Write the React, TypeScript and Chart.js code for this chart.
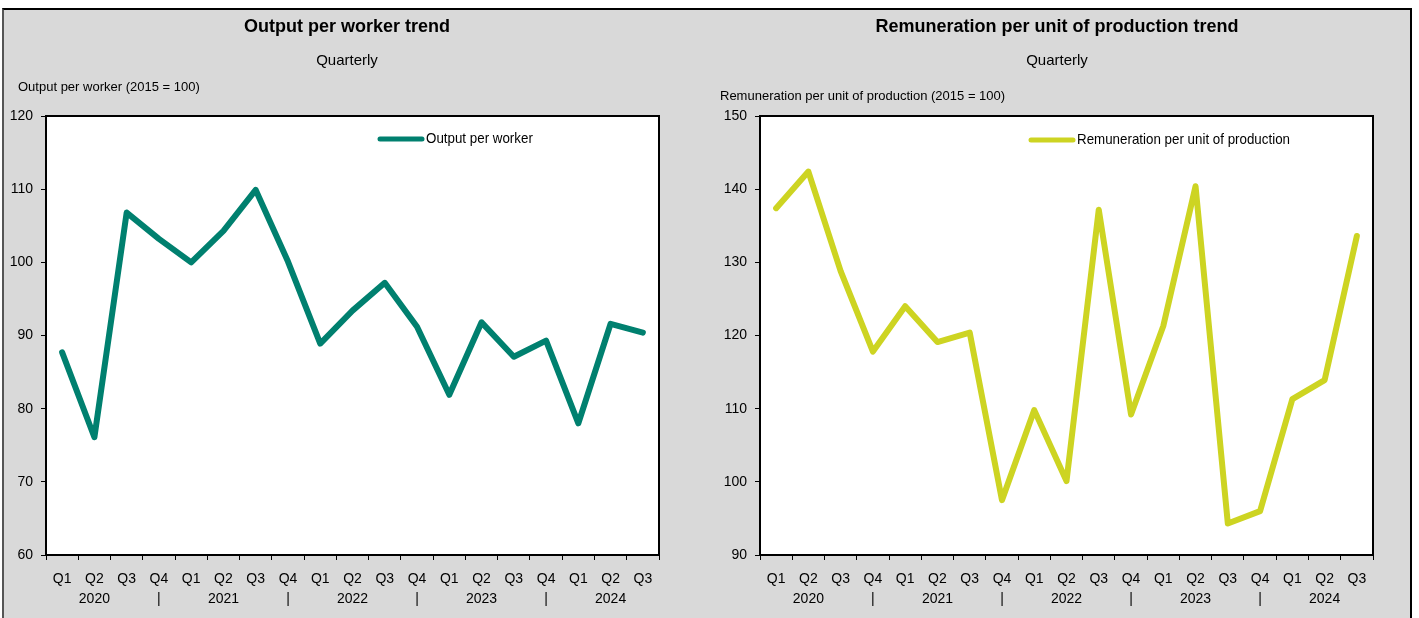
import React, { useEffect, useRef } from "react";
import { Chart, registerables } from "chart.js";

Chart.register(...registerables);

// ---------- data ----------
const quarterLabels = ["Q1", "Q2", "Q3", "Q4", "Q1", "Q2", "Q3", "Q4", "Q1", "Q2", "Q3", "Q4", "Q1", "Q2", "Q3", "Q4", "Q1", "Q2", "Q3"];
const yearLabels = ["", "2020", "", "|", "", "2021", "", "|", "", "2022", "", "|", "", "2023", "", "|", "", "2024", ""];

const outputPerWorker = [87.7, 76.1, 106.8, 103.2, 100.0, 104.3, 109.9, 100.1, 88.9, 93.4, 97.2, 91.2, 81.9, 91.8, 87.1, 89.3, 78.0, 91.6, 90.4];
const remunerationPerUnit = [137.4, 142.4, 128.8, 117.8, 124.0, 119.1, 120.4, 97.5, 109.8, 100.1, 137.2, 109.2, 121.3, 140.4, 94.3, 96.0, 111.3, 113.9, 133.6];

const outputTicks = { min: 60, max: 120, step: 10 };
const remunerationTicks = { min: 90, max: 150, step: 10 };

const FONT = "'Liberation Sans Narrow', 'Arial Narrow', 'Liberation Sans', Arial, sans-serif";

type PanelProps = {
  left: number;
  width: number;
  height: number;
  title: string;
  subtitle: string;
  axisLabel: string;
  seriesName: string;
  values: number[];
  color: string;
  range: { min: number; max: number; step: number };
  yAxisWidth: number;
  rightPad: number;
  titleX: number;
  axisLabelPos: [number, number];
  legendPos: [number, number];
};

function Panel(p: PanelProps) {
  const ref = useRef<HTMLCanvasElement | null>(null);

  useEffect(() => {
    if (!ref.current) return;
    const labels = quarterLabels.map((q, i) => [q, yearLabels[i]]);

    const decor = {
      id: "decor",
      beforeDraw(chart: any) {
        const { ctx, chartArea: a } = chart;
        ctx.save();
        ctx.fillStyle = "#ffffff";
        ctx.fillRect(a.left, a.top, a.right - a.left, a.bottom - a.top);
        ctx.restore();
      },
      afterDraw(chart: any) {
        const { ctx, chartArea: a } = chart;
        ctx.save();
        ctx.strokeStyle = "#000";
        ctx.lineWidth = 2;
        ctx.strokeRect(a.left, a.top, a.right - a.left, a.bottom - a.top);

        ctx.fillStyle = "#000";
        ctx.textAlign = "center";
        ctx.textBaseline = "middle";
        ctx.font = `bold 18px ${FONT}`;
        ctx.fillText(p.title, p.titleX, 17);
        ctx.font = `15px ${FONT}`;
        ctx.fillText(p.subtitle, p.titleX, 51);

        ctx.textAlign = "left";
        ctx.font = `13px ${FONT}`;
        ctx.fillText(p.axisLabel, p.axisLabelPos[0], p.axisLabelPos[1]);

        const [lx, ly] = p.legendPos;
        ctx.strokeStyle = p.color;
        ctx.lineWidth = 5;
        ctx.lineCap = "round";
        ctx.beginPath();
        ctx.moveTo(lx, ly);
        ctx.lineTo(lx + 42, ly);
        ctx.stroke();
        ctx.font = `15px ${FONT}`;
        ctx.save();
        ctx.translate(lx + 46, ly);
        ctx.scale(0.89, 1);
        ctx.fillText(p.seriesName, 0, 0);
        ctx.restore();
        ctx.restore();
      },
    };

    const chart = new Chart(ref.current, {
      type: "line",
      data: {
        labels,
        datasets: [
          {
            label: p.seriesName,
            data: p.values,
            borderColor: p.color,
            backgroundColor: p.color,
            borderWidth: 6,
            pointRadius: 0,
            tension: 0,
            borderJoinStyle: "round",
            borderCapStyle: "round",
          },
        ],
      },
      options: {
        animation: false,
        responsive: false,
        maintainAspectRatio: false,
        layout: { padding: { top: 106, right: p.rightPad, left: 0, bottom: 0 } },
        plugins: {
          legend: { display: false },
          title: { display: false },
          tooltip: { enabled: false },
        },
        scales: {
          x: {
            type: "category",
            offset: true,
            grid: { offset: true, drawOnChartArea: false, tickLength: 5, color: "#000", lineWidth: 1 },
            border: { display: true, color: "#000", width: 2 },
            ticks: {
              autoSkip: false,
              maxRotation: 0,
              minRotation: 0,
              color: "#000",
              padding: 9,
              font: { family: FONT, size: 14, lineHeight: 1.45 },
            },
            afterFit(scale: any) {
              scale.height = 63;
            },
          },
          y: {
            min: p.range.min,
            max: p.range.max,
            grid: { drawOnChartArea: false, tickLength: 5, color: "#000", lineWidth: 1 },
            border: { display: true, color: "#000", width: 2 },
            ticks: {
              stepSize: p.range.step,
              color: "#000",
              padding: 8,
              font: { family: FONT, size: 14 },
            },
            afterFit(scale: any) {
              scale.width = p.yAxisWidth;
            },
          },
        },
      },
      plugins: [decor],
    } as any);

    return () => chart.destroy();
  }, []);

  return (
    <canvas
      ref={ref}
      width={p.width}
      height={p.height}
      style={{ position: "absolute", left: p.left, top: 0, width: p.width, height: p.height, display: "block" }}
    />
  );
}

export default function App() {
  return (
    <div
      style={{
        position: "absolute",
        left: 2,
        top: 8,
        width: 1410,
        height: 610,
        boxSizing: "border-box",
        background: "#d9d9d9",
        borderTop: "2px solid #000",
        borderLeft: "2px solid #555",
        borderRight: "2px solid #000",
        overflow: "hidden",
      }}
    >
      <Panel
        left={0}
        width={699}
        height={608}
        title="Output per worker trend"
        subtitle="Quarterly"
        axisLabel="Output per worker (2015 = 100)"
        seriesName="Output per worker"
        values={outputPerWorker}
        color="#00806F"
        range={outputTicks}
        yAxisWidth={42}
        rightPad={44}
        titleX={343}
        axisLabelPos={[14, 77]}
        legendPos={[376, 129]}
      />
      <Panel
        left={699}
        width={706}
        height={608}
        title="Remuneration per unit of production trend"
        subtitle="Quarterly"
        axisLabel="Remuneration per unit of production (2015 = 100)"
        seriesName="Remuneration per unit of production"
        values={remunerationPerUnit}
        color="#CDD422"
        range={remunerationTicks}
        yAxisWidth={57}
        rightPad={36}
        titleX={354}
        axisLabelPos={[17, 86]}
        legendPos={[328, 130]}
      />
    </div>
  );
}
